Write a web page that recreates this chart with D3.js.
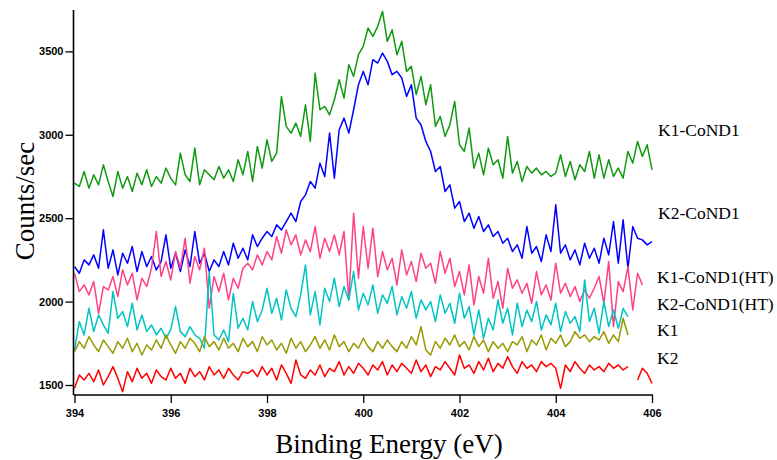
<!DOCTYPE html>
<html><head><meta charset="utf-8">
<script src="https://cdn.jsdelivr.net/npm/d3@7"></script>
<style>body{margin:0;background:#fff}svg{display:block}</style>
</head><body><svg id="c" width="777" height="460"></svg>
<script>
const eStart = 394, eStep = 0.1;
const xTicks = [394, 396, 398, 400, 402, 404, 406];
const yTicks = [1500, 2000, 2500, 3000, 3500];
const seriesNames = ["K1-CoND1", "K2-CoND1", "K1-CoND1(HT)", "K2-CoND1(HT)", "K1", "K2"];
const seriesColors = ["#109a10", "#0000ff", "#ff4088", "#00c4c4", "#999900", "#ff0000"];

const k1CoND1 = [2710,2690,2780,2680,2760,2700,2820,2720,2630,2780,2680,2750,2660,2770,2700,2790,2690,2750,2710,2800,
2740,2700,2890,2760,2720,2920,2700,2790,2760,2730,2810,2740,2790,2720,2850,2760,2900,2720,2930,2800,
2970,2840,2890,3230,3050,3010,3070,2990,3180,2960,3370,3150,3170,3120,3210,3330,3220,3420,3350,3480,
3530,3640,3590,3650,3740,3560,3630,3480,3560,3380,3410,3240,3350,3180,3300,3050,3110,2990,3060,3200,
2940,2900,3040,2800,2890,2760,2920,2820,2850,2740,2990,2770,2840,2720,2810,2770,2800,2760,2780,2750,
2770,2880,2750,2840,2730,2820,2780,2900,2740,2880,2740,2850,2750,2800,2740,2900,2830,2960,2870,2940,2790];

const k2CoND1 = [2210,2170,2250,2220,2280,2200,2430,2200,2310,2160,2290,2230,2330,2180,2300,2210,2270,2190,2240,2400,
2200,2290,2180,2310,2210,2420,2230,2290,2180,2250,2210,2300,2220,2350,2260,2320,2250,2400,2330,2380,
2420,2390,2460,2430,2480,2530,2480,2600,2640,2720,2680,2830,2750,3010,2740,3030,3100,3010,3150,3300,
3380,3300,3450,3430,3490,3440,3360,3380,3340,3230,3300,3100,3060,2960,2900,2780,2810,2660,2700,2560,
2600,2480,2530,2440,2510,2420,2460,2390,2420,2350,2380,2300,2340,2260,2450,2290,2330,2240,2400,2300,
2580,2290,2340,2250,2310,2220,2350,2260,2320,2230,2380,2280,2480,2230,2490,2200,2450,2380,2370,2340,2360];

const k1CoND1HT = [2170,2060,2100,2040,2120,1930,2090,2070,2150,2030,2190,2100,2170,2010,2140,2090,2200,2420,2150,2240,
2130,2300,2200,2380,2110,2270,2190,2320,1960,2150,2060,2170,2010,2140,2080,2200,2230,2190,2280,2220,
2300,2250,2390,2290,2430,2340,2400,2280,2370,2300,2450,2260,2380,2300,2400,2280,2420,2010,2530,2140,
2450,2200,2440,2150,2300,2190,2260,2100,2310,2160,2240,2120,2290,2200,2230,2110,2300,2170,2260,2090,
2180,2040,2220,1980,2150,2050,2260,2020,2120,1960,2200,2080,2130,2050,2110,1990,2180,2040,2100,2010,
2230,2050,2110,2030,2090,2000,2070,2020,2080,2150,1990,2240,1850,2120,2060,2210,1950,2170,2100];

const k2CoND1HT = [1710,1880,1800,1960,1820,1920,1860,1810,2060,1900,1940,1850,1990,1830,1920,1820,1860,1800,1840,1780,
1830,1970,1820,1790,1850,1800,1780,1720,2180,1800,1770,1830,1760,2050,1840,1900,1830,2000,1880,1950,
2080,1930,2020,1890,2070,1960,1910,2040,2220,1920,2060,1860,2080,2000,2140,1970,2090,2010,2180,1950,
2050,1980,2100,1930,2040,1990,2090,1920,2030,1960,2060,1900,2010,1950,2000,1880,2040,1930,1990,1870,
2050,1900,1970,1800,1950,1780,1900,1830,2010,1870,1960,1800,1990,1850,1950,1880,2000,1830,1920,1860,
1990,1820,1940,1870,1910,1820,2130,1880,1960,1810,2000,1850,1950,1840,1960,1910];

const k1 = [1700,1760,1720,1790,1740,1700,1770,1730,1690,1760,1720,1780,1700,1750,1680,1740,1710,1770,1720,1800,
1740,1690,1760,1720,1780,1750,1700,1790,1730,1760,1710,1780,1720,1750,1700,1780,1730,1760,1700,1790,
1740,1770,1710,1750,1690,1780,1720,1760,1700,1740,1790,1720,1770,1710,1800,1730,1760,1700,1750,1720,
1780,1730,1700,1760,1720,1770,1730,1700,1760,1720,1790,1740,1850,1710,1680,1760,1720,1780,1740,1800,
1730,1760,1710,1790,1730,1770,1700,1760,1720,1750,1700,1760,1740,1790,1700,1770,1740,1800,1710,1780,
1750,1800,1730,1760,1820,1780,1800,1760,1790,1770,1820,1750,1800,1760,1900,1800];

const k2 = [1480,1560,1530,1570,1520,1590,1500,1550,1610,1540,1460,1580,1520,1600,1540,1570,1510,1590,1550,1530,
1600,1540,1570,1510,1600,1550,1580,1530,1610,1560,1590,1540,1600,1560,1530,1580,1570,1590,1550,1610,
1560,1600,1530,1620,1570,1510,1650,1560,1540,1590,1560,1620,1550,1600,1580,1640,1560,1610,1570,1630,
1600,1560,1620,1590,1640,1560,1620,1580,1630,1600,1570,1650,1580,1620,1550,1610,1590,1640,1600,1560,
1680,1600,1620,1570,1640,1590,1660,1580,1630,1600,1670,1610,1570,1640,1600,1620,1580,1640,1610,1630,
1600,1480,1620,1580,1640,1600,1570,1620,1590,1610,1580,1630,1600,1620,1590,1610,null,1530,1600,1570,1510];

const seriesValues = [k1CoND1, k2CoND1, k1CoND1HT, k2CoND1HT, k1, k2];
const labelValues = [2800, 2300, 1900, 1740, 1580, 1410]; // label anchor y (data units)

const svg = d3.select("#c");
const x = d3.scaleLinear().domain([394, 406]).range([74.5, 652]);
const y = d3.scaleLinear().domain([1440, 3748]).range([395, 10]);

const line = d3.line()
  .defined(d => d.v !== null)
  .x(d => x(d.e)).y(d => y(d.v));

seriesValues.forEach((vals, k) => {
  const pts = vals.map((v, i) => ({e: eStart + i * eStep, v}));
  svg.append("path").datum(pts)
    .attr("fill", "none").attr("stroke", seriesColors[k])
    .attr("stroke-width", 1.5).attr("stroke-linejoin", "round")
    .attr("d", line);
});

// axes
const xAxis = svg.append("g").attr("transform", "translate(0,395)")
  .call(d3.axisBottom(x).tickValues(xTicks).tickSize(8).tickSizeOuter(0).tickPadding(6).tickFormat(d3.format("d")));
const yAxis = svg.append("g").attr("transform", "translate(73.5,0)")
  .call(d3.axisLeft(y).tickValues(yTicks).tickSize(8).tickSizeOuter(0).tickPadding(2).tickFormat(d3.format("d")));
[xAxis, yAxis].forEach(g => {
  g.selectAll("path.domain").attr("stroke", "#000").attr("stroke-width", 1.6);
  g.selectAll(".tick line").attr("stroke", "#000").attr("stroke-width", 1.3);
  g.selectAll(".tick text").attr("fill", "#000")
    .style("font-family", "'Liberation Sans', Arial, sans-serif")
    .style("font-size", "11px").style("font-weight", "bold");
});
yAxis.select("path.domain").attr("d", "M0,395V10");
xAxis.select("path.domain").attr("d", `M${73.5 - 0},0H653`);

// axis titles
svg.append("text").attr("x", 389).attr("y", 453).attr("text-anchor", "middle")
  .style("font-family", "'Liberation Serif', 'Times New Roman', serif").style("font-size", "27px")
  .text("Binding Energy (eV)");
svg.append("text").attr("transform", "translate(34,201) rotate(-90)").attr("text-anchor", "middle")
  .style("font-family", "'Liberation Serif', 'Times New Roman', serif").style("font-size", "27px")
  .text("Counts/sec");

// series labels
const labelY = [136, 219, 283, 310, 336, 364];
seriesNames.forEach((n, k) => {
  svg.append("text").attr("x", k < 2 ? 658 : 657).attr("y", labelY[k])
    .style("font-family", "'Liberation Serif', 'Times New Roman', serif").style("font-size", "17.5px")
    .attr("fill", "#000").text(n);
});
</script></body></html>
